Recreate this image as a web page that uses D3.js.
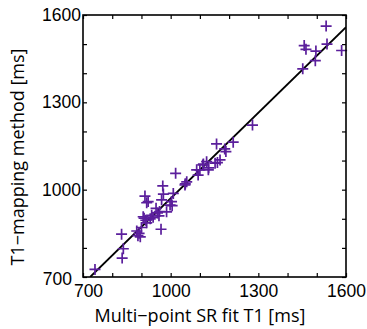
<!DOCTYPE html>
<html>
<head>
<meta charset="utf-8">
<script src="https://cdn.jsdelivr.net/npm/d3@7"></script>
<style>
  body { margin: 0; background: #fff; }
  svg { display: block; font-family: "Open Sans", sans-serif; }
</style>
</head>
<body>
<svg id="chart" width="367" height="329"></svg>
<script>
// multi-point SR fit T1 (x) vs T1-mapping method (y), ms
var srFitT1 = [741, 832, 838, 834, 884, 888, 896, 892, 900, 909, 918, 915, 930, 935, 940,
  950, 955, 962, 967, 960, 986, 998, 1003, 1005, 918, 912, 923, 969, 975, 1009,
  973, 1017, 1049, 1055, 1050, 1089, 1094, 1100, 1110, 1112, 1123, 1129, 1130, 1152, 1160,
  1169, 1189, 1185, 1157, 1214, 1280, 1452, 1495, 1457, 1463, 1497, 1535, 1532, 1585, 906];
var mappingT1 = [726, 847, 797, 765, 858, 842, 838, 850, 870, 902, 886, 895, 900, 912, 905,
  936, 920, 925, 864, 910, 924, 947, 959, 945, 955, 978, 959, 965, 985, 987,
  1013, 1056, 1016, 1027, 1020, 1068, 1050, 1068, 1085, 1088, 1096, 1068, 1075, 1091, 1093,
  1102, 1131, 1140, 1157, 1163, 1222, 1415, 1443, 1495, 1482, 1476, 1500, 1562, 1478, 907];

var axisDomain = [700, 1600];
var minorTicks = d3.range(700, 1601, 100);
var labelTicks = [700, 1000, 1300, 1600];
// fitted regression line: y = slope * x + intercept
var fitSlope = 0.98;
var fitIntercept = -10;

var xTitle = "Multi\u2212point SR fit T1 [ms]";
var yTitle = "T1\u2212mapping method [ms]";

var padding = {left: 83, right: 21, top: 15, bottom: 52};
var chartArea = {width: 367 - padding.left - padding.right, height: 329 - padding.top - padding.bottom};
var markColor = "#5b1f9c";

var svg = d3.select("#chart");
var xScale = d3.scaleLinear().domain(axisDomain).range([0, chartArea.width]);
var yScale = d3.scaleLinear().domain(axisDomain).range([chartArea.height, 0]);

var g = svg.append("g").attr("transform", "translate(" + padding.left + "," + padding.top + ")");

var fmt = function(d) { return labelTicks.indexOf(d) >= 0 ? d : ""; };

// axes, ticks pointing inward
var xAxis = g.append("g").attr("transform", "translate(0," + chartArea.height + ")")
  .call(d3.axisBottom(xScale).tickValues(minorTicks).tickSize(-4).tickPadding(8).tickFormat(fmt));
var yAxis = g.append("g")
  .call(d3.axisLeft(yScale).tickValues(minorTicks).tickSize(-4).tickPadding(2).tickFormat(fmt));
g.append("g").call(d3.axisTop(xScale).tickValues(minorTicks).tickSize(-4).tickFormat(""));
g.append("g").attr("transform", "translate(" + chartArea.width + ",0)")
  .call(d3.axisRight(yScale).tickValues(minorTicks).tickSize(-4).tickFormat(""));

g.selectAll(".domain").remove();
g.selectAll(".tick line").attr("stroke", "#000").attr("stroke-width", 1.2);
g.selectAll(".tick text").attr("fill", "#000").style("font-size", "17.5px");

// the two "700" labels share the corner; nudge them apart
xAxis.selectAll(".tick text").filter(function(d) { return d === axisDomain[0]; }).attr("dx", 5);
yAxis.selectAll(".tick text").filter(function(d) { return d === axisDomain[0]; }).attr("dx", -9).attr("dy", "0.45em");

// clip + fit line
g.append("clipPath").attr("id", "plotClip").append("rect")
  .attr("width", chartArea.width).attr("height", chartArea.height);

var x0 = (axisDomain[0] - fitIntercept) / fitSlope;
var lineData = [x0, axisDomain[1]].map(function(x) { return [x, fitSlope * x + fitIntercept]; });
g.append("path").datum(lineData)
  .attr("clip-path", "url(#plotClip)")
  .attr("fill", "none")
  .attr("stroke", "#000")
  .attr("stroke-width", 1.8)
  .attr("d", d3.line().x(function(d) { return xScale(d[0]); }).y(function(d) { return yScale(d[1]); }));

// plus markers
g.append("g").selectAll("path.pt").data(srFitT1).enter().append("path")
  .attr("class", "pt")
  .attr("transform", function(d, i) { return "translate(" + xScale(d) + "," + yScale(mappingT1[i]) + ")"; })
  .attr("d", "M-5.5,0H5.5M0,-5.5V5.5")
  .attr("stroke", markColor)
  .attr("stroke-width", 1.7)
  .attr("fill", "none");

// box
g.append("rect").attr("width", chartArea.width).attr("height", chartArea.height)
  .attr("fill", "none").attr("stroke", "#000").attr("stroke-width", 1.6);

// titles
svg.append("text").attr("x", 200).attr("y", 321.5)
  .attr("text-anchor", "middle").style("font-size", "18px").text(xTitle);
svg.append("text").attr("transform", "translate(24,157) rotate(-90)")
  .attr("text-anchor", "middle").style("font-size", "18px").text(yTitle);
</script>
</body>
</html>
